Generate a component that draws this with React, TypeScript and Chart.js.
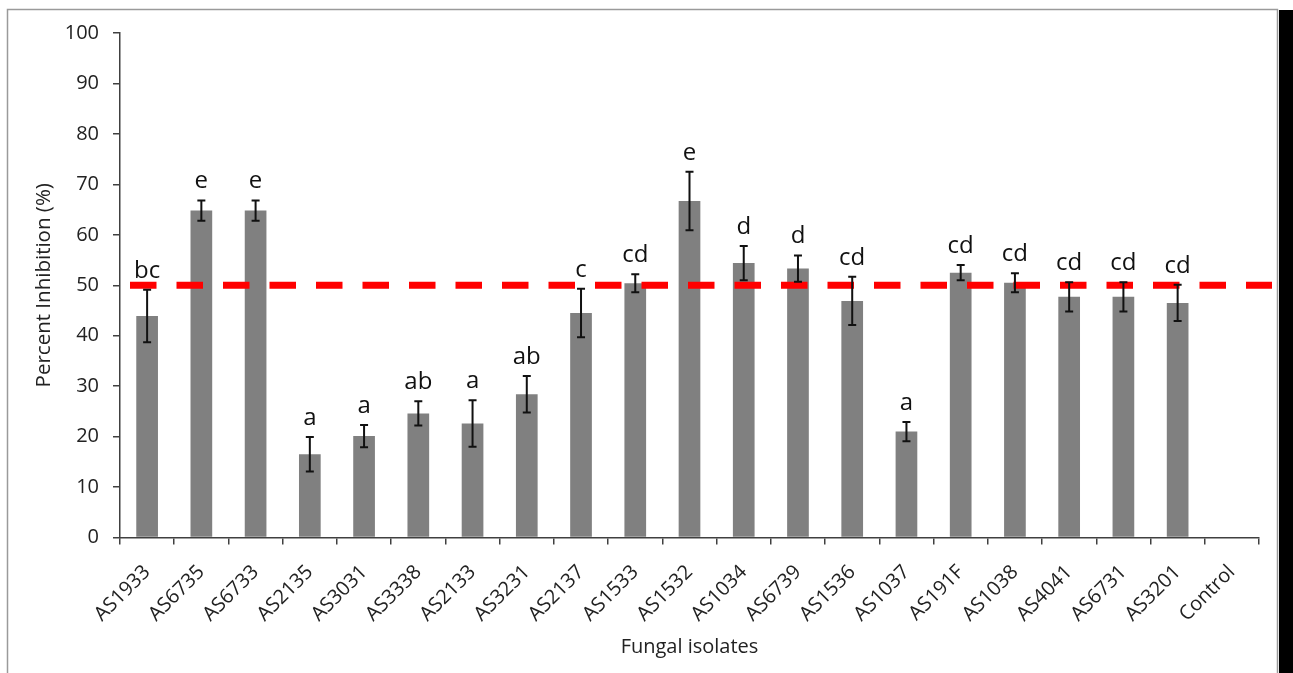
import React, { useEffect, useRef } from "react";
import { Chart, registerables } from "chart.js";

Chart.register(...registerables);

// Fungal isolates tested and their mean percent inhibition (± error)
const categories = [
  "AS1933", "AS6735", "AS6733", "AS2135", "AS3031", "AS3338", "AS2133",
  "AS3231", "AS2137", "AS1533", "AS1532", "AS1034", "AS6739", "AS1536",
  "AS1037", "AS191F", "AS1038", "AS4041", "AS6731", "AS3201", "Control",
];
const means = [
  43.9, 64.8, 64.8, 16.5, 20.1, 24.6, 22.6, 28.4, 44.5, 50.4, 66.7,
  54.4, 53.3, 46.9, 21.0, 52.5, 50.5, 47.7, 47.7, 46.5, 0,
];
const errors = [
  5.2, 2.0, 2.0, 3.4, 2.2, 2.4, 4.6, 3.6, 4.8, 1.8, 5.8,
  3.4, 2.6, 4.8, 1.9, 1.5, 1.9, 2.9, 2.9, 3.6, 0,
];
// Significance groups
const letters = [
  "bc", "e", "e", "a", "a", "ab", "a", "ab", "c", "cd", "e",
  "d", "d", "cd", "a", "cd", "cd", "cd", "cd", "cd", "",
];
const threshold = 50;
const yTicks = [0, 10, 20, 30, 40, 50, 60, 70, 80, 90, 100];

const W = 1293;
const H = 673;
const FONT = "'Open Sans', sans-serif";
const TEXT = "#222222";

const decorations = {
  id: "decorations",
  beforeDraw(chart: any) {
    const ctx = chart.ctx;
    ctx.save();
    ctx.fillStyle = "#ffffff";
    ctx.fillRect(0, 0, W, H);
    // outer frame
    ctx.strokeStyle = "#9a9a9a";
    ctx.lineWidth = 1.5;
    ctx.beginPath();
    ctx.moveTo(7.5, H);
    ctx.lineTo(7.5, 9.5);
    ctx.lineTo(1277.5, 9.5);
    ctx.lineTo(1277.5, H);
    ctx.stroke();
    // dark strip at the right edge
    ctx.fillStyle = "#000000";
    ctx.fillRect(1279, 10, W - 1279, H - 10);
    ctx.restore();
  },
  afterDatasetsDraw(chart: any) {
    const ctx = chart.ctx;
    const x = chart.scales.x;
    const y = chart.scales.y;
    const area = chart.chartArea;
    ctx.save();
    // threshold line
    const ty = y.getPixelForValue(threshold);
    ctx.strokeStyle = "#ff0000";
    ctx.lineWidth = 7;
    ctx.setLineDash([26.5, 20]);
    ctx.beginPath();
    ctx.moveTo(area.left + 10, ty);
    ctx.lineTo(area.right + 13, ty);
    ctx.stroke();
    ctx.setLineDash([]);

    // error bars and group letters
    ctx.strokeStyle = "#111111";
    ctx.lineWidth = 2;
    ctx.fillStyle = "#111111";
    ctx.font = `24px ${FONT}`;
    ctx.textAlign = "center";
    ctx.textBaseline = "alphabetic";
    categories.forEach((_, i) => {
      const cx = x.getPixelForValue(i);
      const hi = y.getPixelForValue(means[i] + errors[i]);
      const lo = y.getPixelForValue(means[i] - errors[i]);
      if (errors[i] > 0) {
        ctx.beginPath();
        ctx.moveTo(cx, hi);
        ctx.lineTo(cx, lo);
        ctx.moveTo(cx - 4, hi);
        ctx.lineTo(cx + 4, hi);
        ctx.moveTo(cx - 4, lo);
        ctx.lineTo(cx + 4, lo);
        ctx.stroke();
      }
      if (letters[i]) {
        ctx.fillText(letters[i], cx, hi - 12);
      }
    });
    ctx.restore();
  },
};

export default function App() {
  const ref = useRef<HTMLCanvasElement>(null);

  useEffect(() => {
    document.body.style.margin = "0";
    const chart = new Chart(ref.current!, {
      type: "bar",
      data: {
        labels: categories,
        datasets: [
          {
            data: means,
            backgroundColor: "#808080",
            borderWidth: 0,
            barPercentage: 0.8,
            categoryPercentage: 0.5,
          },
        ],
      },
      options: {
        responsive: false,
        devicePixelRatio: 1,
        animation: false,
        layout: { padding: { left: 0, top: 33, right: 34, bottom: 0 } },
        plugins: {
          legend: { display: false },
          tooltip: { enabled: false },
        },
        scales: {
          x: {
            afterFit: (s: any) => {
              s.height = 135.5;
            },
            grid: {
              offset: true,
              drawOnChartArea: false,
              drawTicks: true,
              tickLength: 7,
              color: "#404040",
              lineWidth: 1.5,
            },
            border: { display: true, color: "#404040", width: 1.5 },
            ticks: {
              maxRotation: 45,
              minRotation: 45,
              padding: 16,
              color: TEXT,
              font: { family: FONT, size: 20 },
            },
            title: {
              display: true,
              text: "Fungal isolates",
              color: TEXT,
              font: { family: FONT, size: 20 },
              padding: { top: 0, bottom: 14 },
            },
          },
          y: {
            min: 0,
            max: 100,
            afterFit: (s: any) => {
              s.width = 120;
            },
            afterBuildTicks: (s: any) => {
              s.ticks = yTicks.map((v) => ({ value: v }));
            },
            grid: {
              drawOnChartArea: false,
              drawTicks: true,
              tickLength: 7,
              color: "#404040",
              lineWidth: 1.5,
            },
            border: { display: true, color: "#404040", width: 1.5 },
            ticks: {
              padding: 14,
              color: TEXT,
              font: { family: FONT, size: 20 },
            },
            title: {
              display: true,
              text: "Percent Inhibition (%)",
              color: TEXT,
              font: { family: FONT, size: 20.5 },
              padding: { top: 32, bottom: 0 },
            },
          },
        },
      },
      plugins: [decorations],
    });
    return () => chart.destroy();
  }, []);

  return (
    <div style={{ width: W, height: H, position: "relative" }}>
      <canvas ref={ref} width={W} height={H} style={{ display: "block" }} />
    </div>
  );
}
